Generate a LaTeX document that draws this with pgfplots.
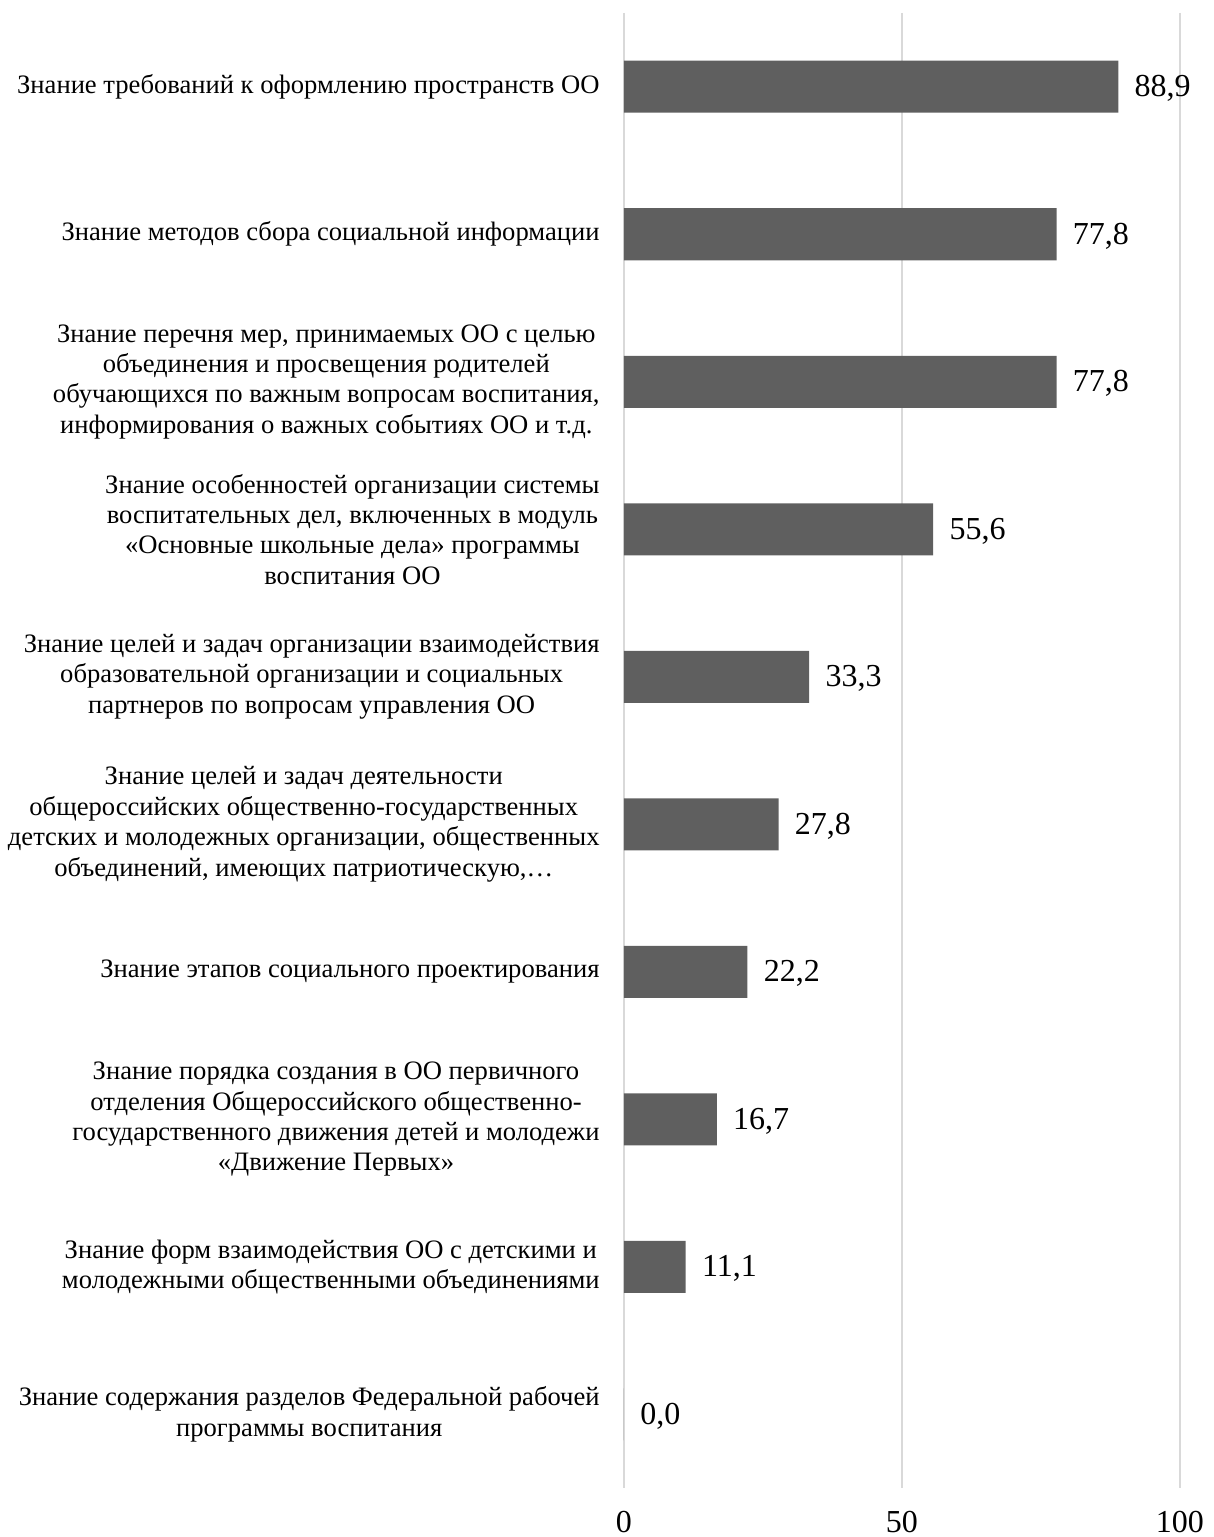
\documentclass[border=0pt]{standalone}
\usepackage{fontspec}
\setmainfont{Liberation Serif}
\usepackage{pgfplots}
\pgfplotsset{compat=1.18}
\definecolor{barcol}{HTML}{5F5F5F}
\definecolor{gridcol}{HTML}{D9D9D9}
\begin{document}
\begin{tikzpicture}
  \useasboundingbox (-312pt,-24.5pt) rectangle (295pt,744pt);
  \begin{axis}[
    scale only axis,
    width=278pt, height=737.5pt,
    xbar, bar width=26pt,
    xmin=0, xmax=100,
    ymin=-0.5, ymax=9.5,
    y dir=reverse,
    xtick={0,50,100},
    ytick={0,...,9},
    yticklabels={
      {Знание требований к оформлению пространств ОО},
      {Знание методов сбора социальной информации},
      {Знание перечня мер, принимаемых ОО с целью\\объединения и просвещения родителей\\обучающихся по важным вопросам воспитания,\\информирования о важных событиях ОО и т.д.},
      {Знание особенностей организации системы\\воспитательных дел, включенных в модуль\\«Основные школьные дела» программы\\воспитания ОО},
      {Знание целей и задач организации взаимодействия\\образовательной организации и социальных\\партнеров по вопросам управления ОО},
      {Знание целей и задач деятельности\\общероссийских общественно-государственных\\детских и молодежных организации, общественных\\объединений, имеющих патриотическую,\ldots},
      {Знание этапов социального проектирования},
      {Знание порядка создания в ОО первичного\\отделения Общероссийского общественно-\\государственного движения детей и молодежи\\«Движение Первых»},
      {Знание форм взаимодействия ОО с детскими и\\молодежными общественными объединениями},
      {Знание содержания разделов Федеральной рабочей\\программы воспитания}
    },
    axis line style={draw=none},
    major tick length=0pt,
    xmajorgrids,
    grid style={draw=gridcol, line width=1pt},
    yticklabel style={align=center, anchor=east, inner sep=0pt, xshift=-12pt,
      font=\fontsize{13.3}{15.2}\selectfont},
    xticklabel style={anchor=north, inner sep=0pt, yshift=-11.5pt,
      font=\fontsize{16}{19}\selectfont},
    /pgf/number format/assume math mode=true,
    nodes near coords,
    nodes near coords style={font=\fontsize{16}{19}\selectfont, inner sep=0pt, xshift=8pt, yshift=-1pt,
      /pgf/number format/.cd, fixed, fixed zerofill, precision=1, use comma, assume math mode=true},
  ]
    \addplot[fill=barcol, draw=none] coordinates {
      (88.9,0) (77.8,1) (77.8,2) (55.6,3) (33.3,4)
      (27.8,5) (22.2,6) (16.7,7) (11.1,8) (0.0,9)
    };
  \end{axis}
\end{tikzpicture}
\end{document}
